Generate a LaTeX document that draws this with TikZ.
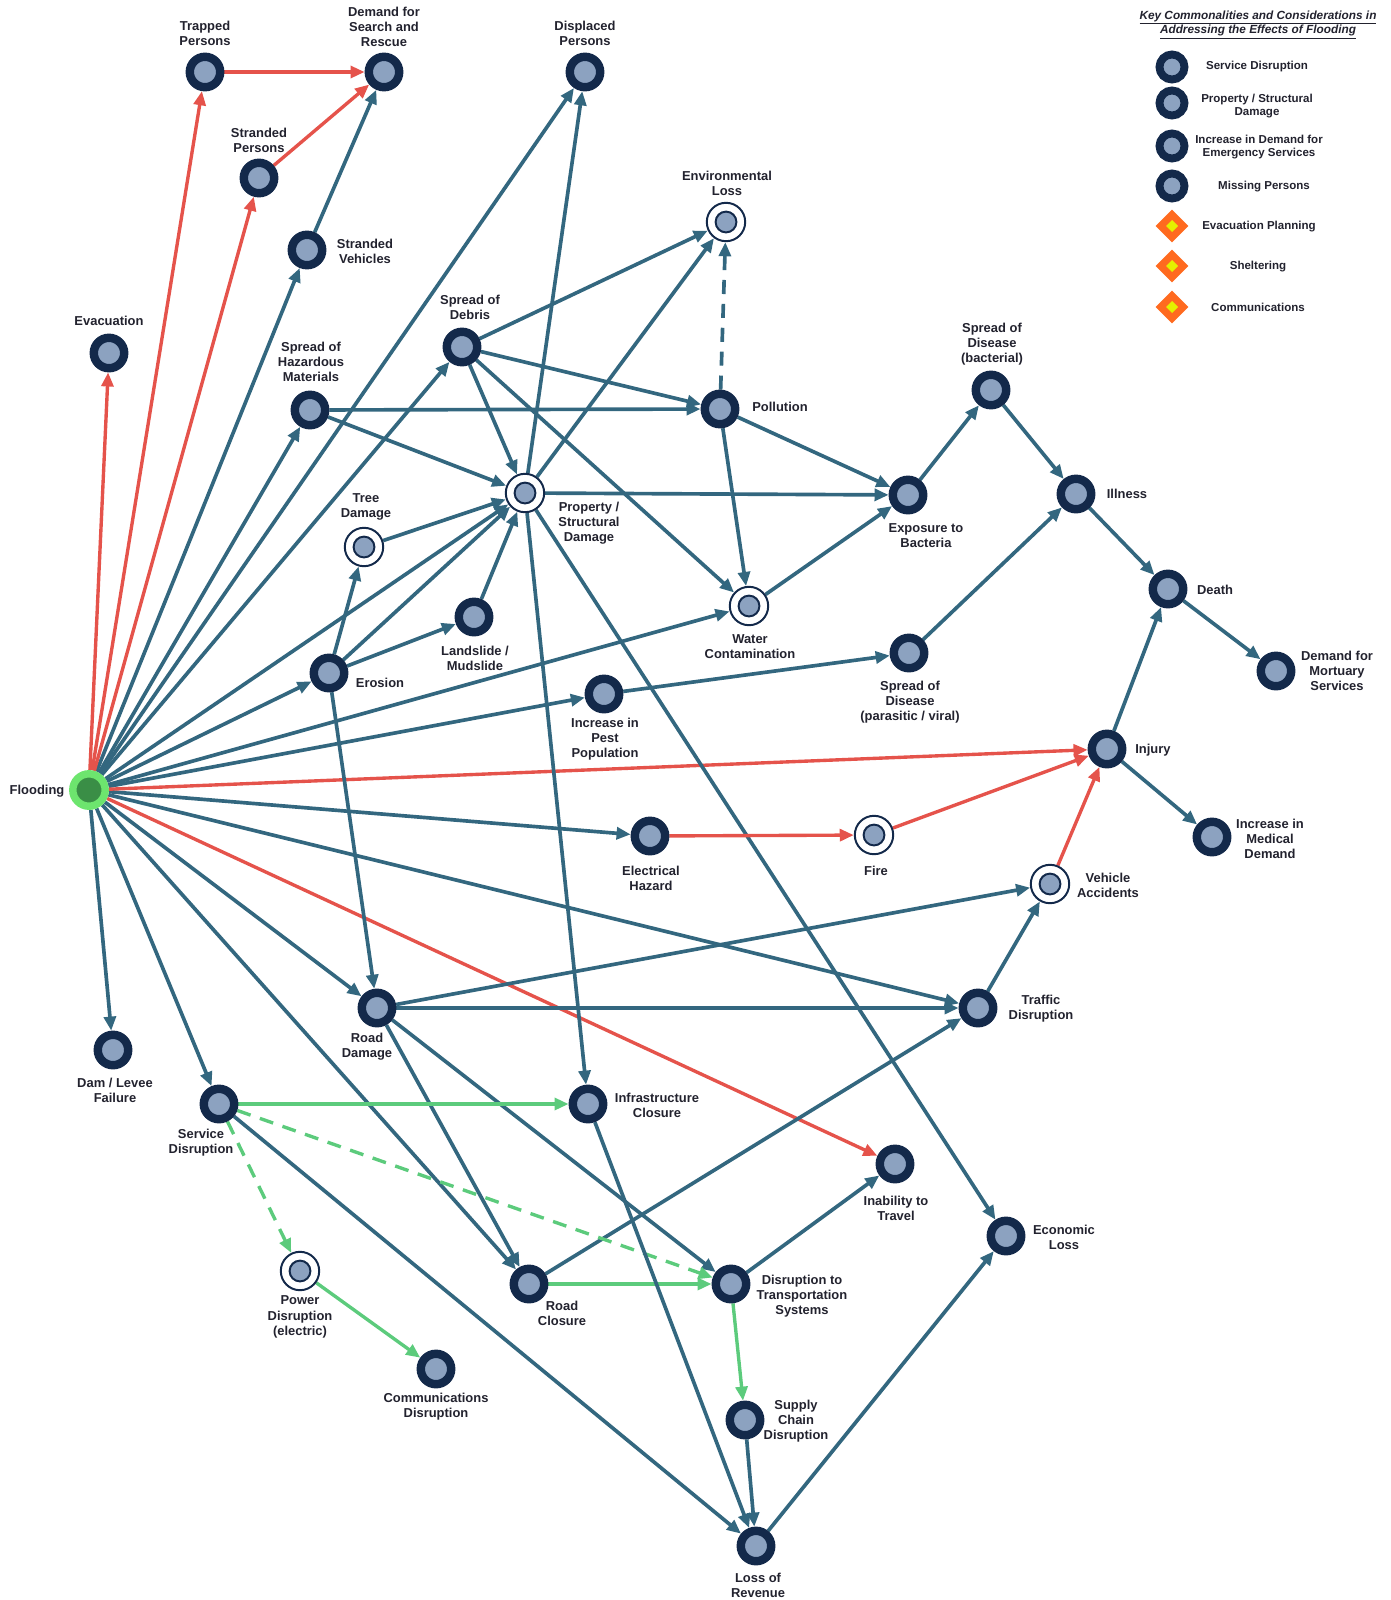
\documentclass[tikz,border=0pt]{standalone}
\usepackage{fontspec}
\setmainfont{Liberation Sans}
\usetikzlibrary{arrows.meta,backgrounds,shapes.geometric}

\definecolor{ringdark}{HTML}{13294A}
\definecolor{ringfill}{HTML}{8CA2C0}
\definecolor{linkblue}{HTML}{33677F}
\definecolor{linkred}{HTML}{E5534B}
\definecolor{linkgreen}{HTML}{5CCB7C}
\definecolor{floodring}{HTML}{6DE56E}
\definecolor{floodcore}{HTML}{3A8E46}
\definecolor{txtdark}{HTML}{22222E}
\definecolor{keyorange}{HTML}{FF6A1F}
\definecolor{keyyellow}{HTML}{E4F000}

\tikzset{
  effect/.style={circle, draw=ringdark, fill=ringfill, line width=6pt, inner sep=0pt, minimum size=0.76cm},
  ringed/.style={circle, draw=ringdark, fill=white, line width=1.4pt, inner sep=0pt, minimum size=0.96cm,
    path picture={\filldraw[fill=ringfill, draw=ringdark, line width=1.4pt] (path picture bounding box.center) circle (0.26cm);}},
  source/.style={circle, draw=floodring, fill=floodcore, line width=5.3pt, inner sep=0pt, minimum size=0.81cm},
  lbl/.style={font=\fontsize{9.2}{10.8}\selectfont\bfseries, text=txtdark, align=center, inner sep=0pt},
  keylbl/.style={font=\fontsize{8.2}{9.5}\selectfont\bfseries, text=txtdark, align=center, inner sep=0pt},
  keyring/.style={circle, draw=ringdark, fill=ringfill, line width=5.6pt, inner sep=0pt, minimum size=0.625cm},
  keydiamond/.style={diamond, fill=keyorange, inner sep=0pt, minimum size=0.82cm,
    path picture={\fill[keyyellow] (path picture bounding box.center) +(0cm,0.15cm) -- +(0.15cm,0cm) -- +(0cm,-0.15cm) -- +(-0.15cm,0cm) -- cycle;}},
  link/.style={draw=linkblue, line width=2.6pt, -{Triangle[length=10pt,width=8.5pt]}},
  hazard/.style={link, draw=linkred, line width=2.4pt},
  plan/.style={link, draw=linkgreen, line width=2.4pt},
  dashedlink/.style={dash pattern=on 10pt off 7pt},
}

\begin{document}
\begin{tikzpicture}[x=0.025cm, y=-0.025cm]
\useasboundingbox (0,0) rectangle (1391,1600);

% key
\node[keylbl, font=\fontsize{8.4}{10.4}\selectfont\bfseries\itshape] (keytitle) at (1258,25) {\underline{Key Commonalities and Considerations in}\\\underline{Addressing the Effects of Flooding}};
\node[keyring] (keyservice) at (1172,67) {};
\node[keylbl] (keyserviceL) at (1257,67) {Service Disruption};
\node[keyring] (keyproperty) at (1172,103) {};
\node[keylbl] (keypropertyL) at (1257,106) {Property / Structural\\Damage};
\node[keyring] (keydemand) at (1172,146) {};
\node[keylbl] (keydemandL) at (1259,147) {Increase in Demand for\\Emergency Services};
\node[keyring] (keymissing) at (1172,186) {};
\node[keylbl] (keymissingL) at (1264,187) {Missing Persons};
\node[keydiamond] (keyevac) at (1172,226) {};
\node[keylbl] (keyevacL) at (1259,227) {Evacuation Planning};
\node[keydiamond] (keyshelter) at (1172,266) {};
\node[keylbl] (keyshelterL) at (1258,267) {Sheltering};
\node[keydiamond] (keycomms) at (1172,307) {};
\node[keylbl] (keycommsL) at (1258,307) {Communications};

% effects of flooding
\node[source] (flood) at (89,790) {};
\node[lbl] (floodL) at (37,791) {Flooding};

\node[effect] (trapped) at (205,72) {};
\node[lbl] (trappedL) at (205,33) {Trapped\\Persons};
\node[effect] (rescue) at (384,72) {};
\node[lbl] (rescueL) at (384,27) {Demand for\\Search and\\Rescue};
\node[effect] (displaced) at (585,72) {};
\node[lbl] (displacedL) at (585,33) {Displaced\\Persons};
\node[effect] (spersons) at (259,178) {};
\node[lbl] (spersonsL) at (259,140) {Stranded\\Persons};
\node[effect] (svehicles) at (307,250) {};
\node[lbl] (svehiclesL) at (365,251) {Stranded\\Vehicles};
\node[effect] (evac) at (109,353) {};
\node[lbl] (evacL) at (109,321) {Evacuation};
\node[ringed] (envloss) at (726,222) {};
\node[lbl] (envlossL) at (727,183) {Environmental\\Loss};
\node[effect] (debris) at (462,347) {};
\node[lbl] (debrisL) at (470,307) {Spread of\\Debris};
\node[effect] (hazmat) at (310,410) {};
\node[lbl] (hazmatL) at (311,362) {Spread of\\Hazardous\\Materials};
\node[effect] (pollution) at (720,409) {};
\node[lbl] (pollutionL) at (780,407) {Pollution};
\node[effect] (bact) at (991,390) {};
\node[lbl] (bactL) at (992,344) {Spread of\\Disease\\(bacterial)};
\node[ringed] (property) at (525,493) {};
\node[lbl] (propertyL) at (589,523) {Property /\\Structural\\Damage};
\node[ringed] (tree) at (364,547) {};
\node[lbl] (treeL) at (366,507) {Tree\\Damage};
\node[effect] (exposure) at (908,495) {};
\node[lbl] (exposureL) at (926,536) {Exposure to\\Bacteria};
\node[effect] (illness) at (1076,494) {};
\node[lbl] (illnessL) at (1127,494) {Illness};
\node[effect] (landslide) at (474,617) {};
\node[lbl] (landslideL) at (475,658) {Landslide /\\Mudslide};
\node[ringed] (water) at (749,606) {};
\node[lbl] (waterL) at (750,647) {Water\\Contamination};
\node[effect] (erosion) at (329,673) {};
\node[lbl] (erosionL) at (380,683) {Erosion};
\node[effect] (death) at (1168,589) {};
\node[lbl] (deathL) at (1215,590) {Death};
\node[effect] (viral) at (909,653) {};
\node[lbl] (viralL) at (910,702) {Spread of\\Disease\\(parasitic / viral)};
\node[effect] (mortuary) at (1276,671) {};
\node[lbl] (mortuaryL) at (1337,671) {Demand for\\Mortuary\\Services};
\node[effect] (pest) at (604,694) {};
\node[lbl] (pestL) at (605,739) {Increase in\\Pest\\Population};
\node[effect] (injury) at (1107,749) {};
\node[lbl] (injuryL) at (1153,750) {Injury};
\node[effect] (electrical) at (650,836) {};
\node[lbl] (electricalL) at (651,878) {Electrical\\Hazard};
\node[ringed] (fire) at (874,835) {};
\node[lbl] (fireL) at (876,871) {Fire};
\node[effect] (medical) at (1212,837) {};
\node[lbl] (medicalL) at (1270,839) {Increase in\\Medical\\Demand};
\node[ringed] (vehicle) at (1050,884) {};
\node[lbl] (vehicleL) at (1108,885) {Vehicle\\Accidents};
\node[effect] (roaddmg) at (377,1008) {};
\node[lbl] (roaddmgL) at (367,1047) {Road\\Damage};
\node[effect] (traffic) at (978,1008) {};
\node[lbl] (trafficL) at (1041,1009) {Traffic\\Disruption};
\node[effect] (dam) at (113,1050) {};
\node[lbl] (damL) at (115,1090) {Dam / Levee\\Failure};
\node[effect] (service) at (219,1104) {};
\node[lbl] (serviceL) at (201,1143) {Service\\Disruption};
\node[effect] (infra) at (588,1104) {};
\node[lbl] (infraL) at (657,1105) {Infrastructure\\Closure};
\node[effect] (inability) at (895,1164) {};
\node[lbl] (inabilityL) at (896,1208) {Inability to\\Travel};
\node[effect] (economic) at (1006,1236) {};
\node[lbl] (economicL) at (1064,1237) {Economic\\Loss};
\node[ringed] (power) at (300,1271) {};
\node[lbl] (powerL) at (300,1317) {Power\\Disruption\\(electric)};
\node[effect] (roadcl) at (529,1284) {};
\node[lbl] (roadclL) at (562,1313) {Road\\Closure};
\node[effect] (transport) at (731,1284) {};
\node[lbl] (transportL) at (802,1296) {Disruption to\\Transportation\\Systems};
\node[effect] (comms) at (436,1369) {};
\node[lbl] (commsL) at (436,1407) {Communications\\Disruption};
\node[effect] (supply) at (745,1420) {};
\node[lbl] (supplyL) at (796,1421) {Supply\\Chain\\Disruption};
\node[effect] (revenue) at (756,1546) {};
\node[lbl] (revenueL) at (758,1585) {Loss of\\Revenue};

\begin{scope}[on background layer]
  % out of the flood
  \foreach \t in {svehicles, displaced, hazmat, debris, property, erosion, water, pest,
                  electrical, traffic, roaddmg, roadcl, service, dam}
    \draw[link] (flood) -- (\t);
  \foreach \t in {evac, trapped, spersons, injury, inability}
    \draw[hazard] (flood) -- (\t);

  % persons
  \draw[hazard] (trapped) -- (rescue);
  \draw[hazard] (spersons) -- (rescue);
  \draw[link] (svehicles) -- (rescue);

  % debris and damage
  \draw[link] (debris) -- (envloss);
  \draw[link] (debris) -- (pollution);
  \draw[link] (debris) -- (property);
  \draw[link] (debris) -- (water);
  \draw[link] (hazmat) -- (pollution);
  \draw[link] (hazmat) -- (property);
  \draw[link] (tree) -- (property);
  \draw[link] (erosion) -- (tree);
  \draw[link] (erosion) -- (property);
  \draw[link] (erosion) -- (landslide);
  \draw[link] (landslide) -- (property);
  \draw[link] (erosion) -- (roaddmg);
  \draw[link] (property) -- (displaced);
  \draw[link] (property) -- (envloss);
  \draw[link] (property) -- (exposure);
  \draw[link] (property) -- (infra);
  \draw[link] (property) -- (economic);
  \draw[link, dashedlink] (pollution) -- (envloss);
  \draw[link] (pollution) -- (exposure);
  \draw[link] (pollution) -- (water);

  % disease
  \draw[link] (water) -- (exposure);
  \draw[link] (exposure) -- (bact);
  \draw[link] (bact) -- (illness);
  \draw[link] (pest) -- (viral);
  \draw[link] (viral) -- (illness);
  \draw[link] (illness) -- (death);
  \draw[link] (injury) -- (death);
  \draw[link] (death) -- (mortuary);
  \draw[link] (injury) -- (medical);

  % fire and traffic
  \draw[hazard] (electrical) -- (fire);
  \draw[hazard] (fire) -- (injury);
  \draw[hazard] (vehicle) -- (injury);
  \draw[link] (roaddmg) -- (vehicle);
  \draw[link] (roaddmg) -- (traffic);
  \draw[link] (roaddmg) -- (roadcl);
  \draw[link] (roaddmg) -- (transport);
  \draw[link] (traffic) -- (vehicle);
  \draw[link] (roadcl) -- (traffic);
  \draw[link] (transport) -- (inability);

  % services
  \draw[plan] (service) -- (infra);
  \draw[plan, dashedlink] (service) -- (transport);
  \draw[plan, dashedlink] (service) -- (power);
  \draw[plan] (power) -- (comms);
  \draw[plan] (roadcl) -- (transport);
  \draw[plan] (transport) -- (supply);
  \draw[link] (service) -- (revenue);
  \draw[link] (infra) -- (revenue);
  \draw[link] (supply) -- (revenue);
  \draw[link] (revenue) -- (economic);
\end{scope}
\end{tikzpicture}
\end{document}
